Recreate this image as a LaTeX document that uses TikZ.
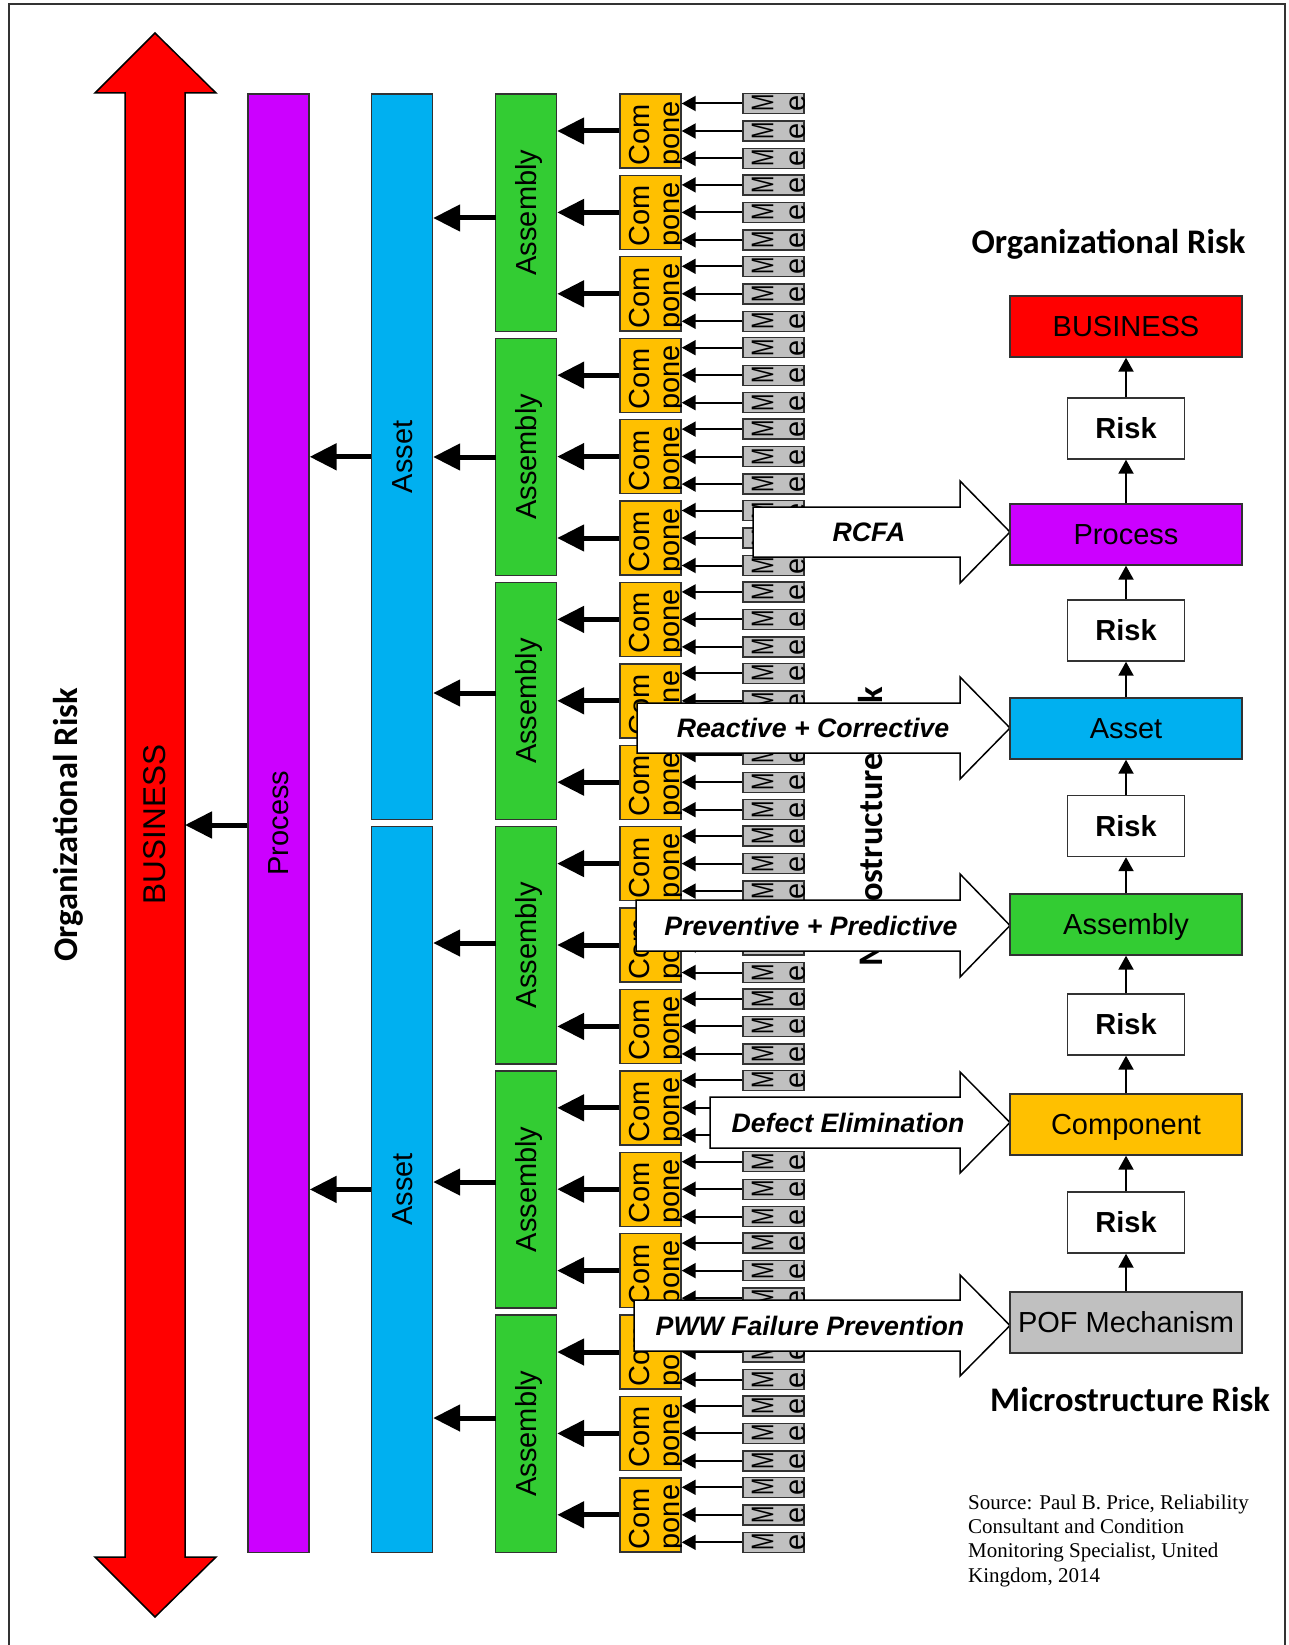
\documentclass[tikz,border=0pt]{standalone}
\usepackage{fontspec}
\setmainfont{Liberation Sans}
\newfontfamily\calib{Carlito}
\newfontfamily\timesf{Liberation Serif}
\usetikzlibrary{arrows.meta}
\definecolor{bizred}{RGB}{255,0,0}
\definecolor{procpurple}{RGB}{204,0,255}
\definecolor{assetblue}{RGB}{0,176,240}
\definecolor{asmgreen}{RGB}{51,204,51}
\definecolor{compyellow}{RGB}{255,192,0}
\definecolor{mechgray}{RGB}{192,192,192}
\definecolor{edgegray}{RGB}{50,50,50}
\newcommand\vlab[1]{\rotatebox{90}{\raisebox{0pt}[0.72em][0pt]{#1}}}
\begin{document}
\begin{tikzpicture}[x=1pt,y=-1pt,
  barbox/.style={draw=edgegray, line width=1.4pt, inner sep=0pt, minimum width=61pt,
     font=\fontsize{29}{33}\selectfont},
  compbox/.style={draw=edgegray, line width=1.4pt, inner sep=0pt, fill=compyellow,
     minimum width=61pt, minimum height=74pt},
  mechbox/.style={draw=edgegray, line width=1.4pt, inner sep=0pt, fill=mechgray,
     minimum width=61pt, minimum height=20pt},
  ctext/.style={rotate=90, anchor=base west, inner sep=0pt, font=\fontsize{29}{33}\selectfont},
  thinarr/.style={line width=2pt, -{Triangle[length=14pt,width=15pt]}},
  thickarr/.style={line width=5pt, -{Triangle[length=27pt,width=26pt]}},
  hollow/.style={draw=black, fill=white, line width=1.5pt, line join=miter},
  arrlabel/.style={inner sep=0pt, text height=19.2pt, text depth=0pt,
     font=\bfseries\itshape\fontsize{26.7}{30}\selectfont},
  rbox/.style={draw=edgegray, line width=1.4pt, inner sep=0pt, minimum width=232pt,
     minimum height=61pt, text height=20.8pt, text depth=0pt,
     font=\fontsize{29}{33}\selectfont},
  riskbox/.style={draw=edgegray, line width=1.4pt, inner sep=0pt, fill=white,
     minimum width=117pt, minimum height=61pt, text height=20.8pt, text depth=0pt,
     font=\bfseries\fontsize{29}{33}\selectfont},
  headline/.style={inner sep=0pt, anchor=base, font=\calib\bfseries\fontsize{34.5}{40}\selectfont}
]
\useasboundingbox (0,0) rectangle (1289,1645);
% frame
\draw[line width=2pt, draw=black!80] (9,4) rectangle (1285,1700);

% red double arrow (BUSINESS)
\draw[fill=bizred, draw=black, line width=1.5pt, line join=miter]
  (155,33) -- (216,93) -- (185,93) -- (185,1557) -- (216,1557) -- (155,1617)
  -- (95,1557) -- (125,1557) -- (125,93) -- (95,93) -- cycle;
\node[rotate=90, anchor=base, inner sep=0pt, font=\fontsize{31.5}{36}\selectfont]
  (bizlab) at (165,824.5) {BUSINESS};
\coordinate (bizE) at (185,825);

% process bar
\node[barbox, fill=procpurple, minimum height=1458.2pt] (proc) at (278.5,823.1) {\vlab{Process}};
% asset bars
\node[barbox, fill=assetblue, minimum height=725.6pt] (asset1) at (402,456.8) {\vlab{Asset}};
\node[barbox, fill=assetblue, minimum height=725.6pt] (asset2) at (402,1189.4) {\vlab{Asset}};
% assemblies
\foreach \j in {0,...,5}{
  \pgfmathsetmacro\ac{212.6+244.2*\j}
  \node[barbox, fill=asmgreen, minimum height=237.2pt] (asm\j) at (526,\ac) {\vlab{Assembly}};
}

% components and mechanisms
\foreach \i in {0,...,17}{
  \pgfmathsetmacro\cc{131+81.4*\i}
  \node[compbox] (c\i) at (650.5,\cc) {};
  \begin{scope}
    \clip (c\i.south west) rectangle (c\i.north east);
    \node[ctext] (ca\i) at ([shift={(30pt,3pt)}]c\i.south west) {Com};
    \node[ctext] (cb\i) at ([shift={(60pt,3pt)}]c\i.south west) {pone};
  \end{scope}
  \draw[thickarr] (c\i.west) -- (c\i.west -| asm0.east);
  \foreach \k in {1,2,3}{
    \pgfmathsetmacro\mc{\cc+27.5*(\k-2)}
    \node[mechbox] (m\i-\k) at (773.5,\mc) {};
    \begin{scope}
      \clip (m\i-\k.south west) rectangle (m\i-\k.north east);
      \node[ctext] (ma\i-\k) at ([shift={(31pt,2pt)}]m\i-\k.south west) {\scalebox{0.72}[1.08]{M}};
      \node[ctext] (mb\i-\k) at ([shift={(63pt,2pt)}]m\i-\k.south west) {e};
    \end{scope}
    \draw[thinarr] (m\i-\k.west) -- (m\i-\k.west -| c\i.east);
  }
}

% assembly -> asset
\foreach \j/\yy in {0/218,1/457,2/693,3/943,4/1182,5/1418}{
  \coordinate (aa\j) at (496,\yy);
}
\foreach \j in {0,1,2}{ \draw[thickarr] (aa\j) -- (aa\j -| asset1.east); }
\foreach \j in {3,4,5}{ \draw[thickarr] (aa\j) -- (aa\j -| asset2.east); }
% asset -> process
\draw[thickarr] (asset1.west) -- (asset1.west -| proc.east);
\draw[thickarr] (asset2.west) -- (asset2.west -| proc.east);
% process -> business
\draw[thickarr] (proc.west |- bizE) -- (bizE);

% hidden vertical label
\node[rotate=90, headline] (microv) at (882,827) {Microstructure Risk};

% hollow arrows
\draw[hollow] (753,507) -- (960,507) -- (960,481) -- (1010,532) -- (960,583) -- (960,557) -- (753,557) -- cycle;
\node[arrlabel] (lrcfa) at (869,532) {RCFA};
\draw[hollow] (637,703) -- (960,703) -- (960,677) -- (1010,728) -- (960,779) -- (960,753) -- (637,753) -- cycle;
\node[arrlabel] (lreact) at (813,728) {Reactive + Corrective};
\draw[hollow] (636,900) -- (960,900) -- (960,874) -- (1010,925.5) -- (960,977) -- (960,951) -- (636,951) -- cycle;
\node[arrlabel] (lprev) at (811,925.5) {Preventive + Predictive};
\draw[hollow] (710,1097) -- (960,1097) -- (960,1072) -- (1010,1122.5) -- (960,1173) -- (960,1148) -- (710,1148) -- cycle;
\node[arrlabel] (ldef) at (848,1122.5) {Defect Elimination};
\draw[hollow] (634,1300) -- (960,1300) -- (960,1275) -- (1010,1325.5) -- (960,1376) -- (960,1351) -- (634,1351) -- cycle;
\node[arrlabel] (lpww) at (810,1325.5) {PWW Failure Prevention};

% right column
\node[rbox, fill=bizred] (rbus) at (1126,326.5) {BUSINESS};
\node[riskbox] (rk1) at (1126,428.5) {Risk};
\node[rbox, fill=procpurple] (rproc) at (1126,534.5) {Process};
\node[riskbox] (rk2) at (1126,630.5) {Risk};
\node[rbox, fill=assetblue] (rasset) at (1126,728.5) {Asset};
\node[riskbox] (rk3) at (1126,826) {Risk};
\node[rbox, fill=asmgreen] (rasm) at (1126,924.5) {Assembly};
\node[riskbox] (rk4) at (1126,1024.5) {Risk};
\node[rbox, fill=compyellow] (rcomp) at (1126,1124.5) {Component};
\node[riskbox] (rk5) at (1126,1222.5) {Risk};
\node[rbox, fill=mechgray] (rpof) at (1126,1322.5) {POF Mechanism};

\draw[thinarr] (rk1.north) -- (rbus.south);
\draw[thinarr] (rproc.north) -- (rk1.south);
\draw[thinarr] (rk2.north) -- (rproc.south);
\draw[thinarr] (rasset.north) -- (rk2.south);
\draw[thinarr] (rk3.north) -- (rasset.south);
\draw[thinarr] (rasm.north) -- (rk3.south);
\draw[thinarr] (rk4.north) -- (rasm.south);
\draw[thinarr] (rcomp.north) -- (rk4.south);
\draw[thinarr] (rk5.north) -- (rcomp.south);
\draw[thinarr] (rpof.north) -- (rk5.south);

% headings
\node[headline] (orgtop) at (1108.5,254) {Organizational Risk};
\node[headline] (microbot) at (1130,1411) {Microstructure Risk};
\node[headline, rotate=90] (orgleft) at (77,825) {Organizational Risk};

% source
\node[anchor=north west, inner sep=0pt, align=left, font=\timesf\fontsize{21}{24.3}\selectfont]
  (src) at (968,1494.5) {Source: Paul B. Price, Reliability\\Consultant and Condition\\Monitoring Specialist, United\\Kingdom, 2014};
\end{tikzpicture}
\end{document}
